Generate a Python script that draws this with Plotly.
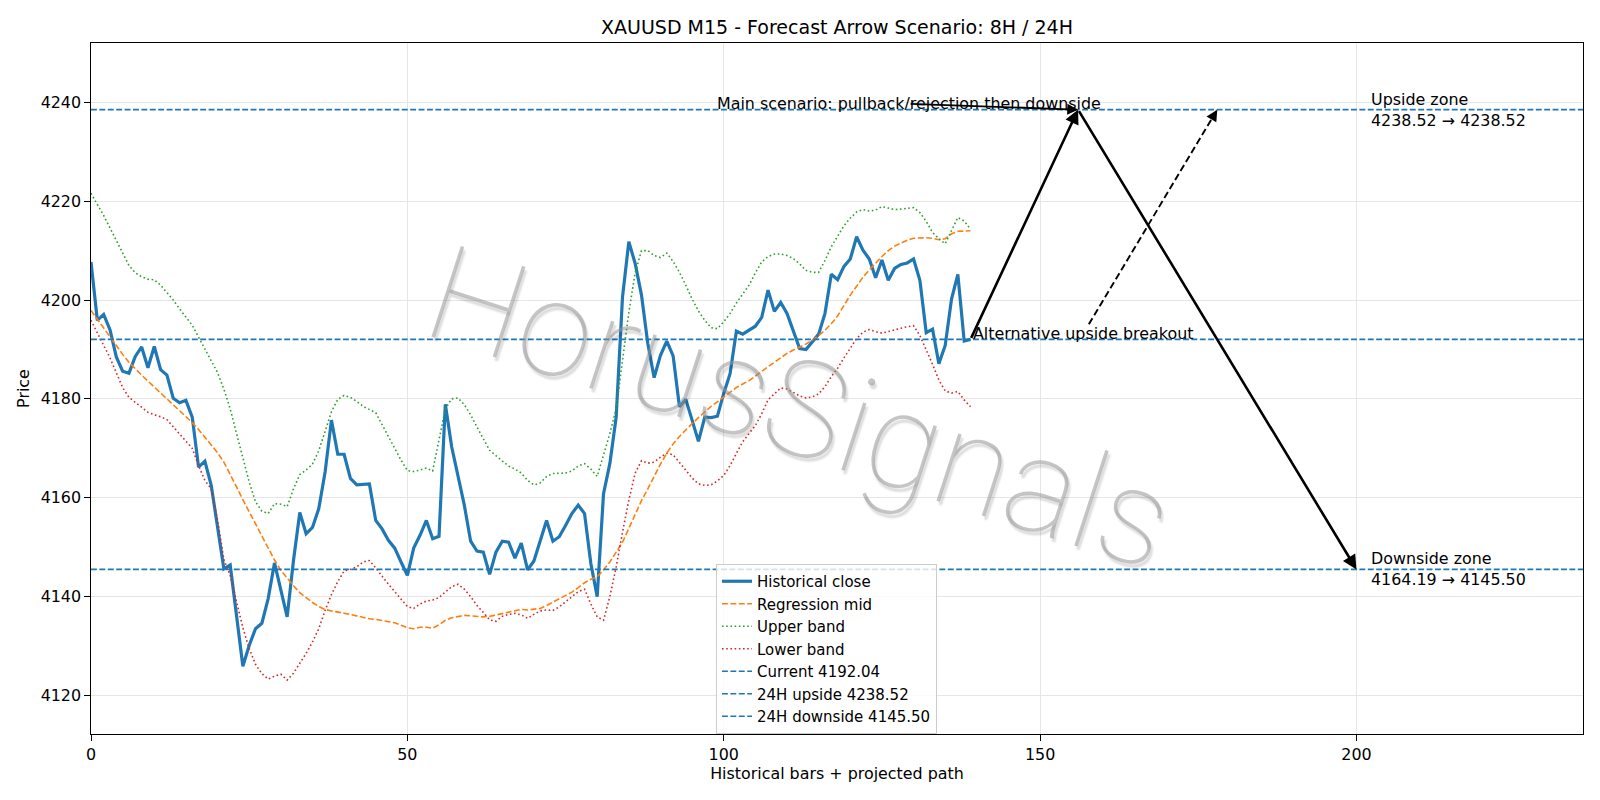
import plotly.graph_objects as go

# ---------------- data ----------------
bars = list(range(140))

close = [4207.7, 4195.9, 4197.1, 4194.0, 4188.5, 4185.6, 4185.2, 4188.6, 4190.5, 4186.3,
         4190.6, 4185.9, 4184.8, 4180.1, 4179.2, 4179.7, 4176.3, 4166.2, 4167.4, 4162.5,
         4154.1, 4145.6, 4146.4, 4135.9, 4125.9, 4130.1, 4133.5, 4134.6, 4139.6, 4146.8,
         4141.3, 4135.9, 4147.3, 4157.0, 4152.7, 4154.0, 4157.8, 4165.2, 4175.7, 4168.8,
         4168.8, 4163.9, 4162.6, 4162.7, 4162.8, 4155.4, 4153.7, 4151.4, 4149.8, 4147.0,
         4144.3, 4149.8, 4152.4, 4155.4, 4151.7, 4152.2, 4178.9, 4170.3, 4164.2, 4158.5,
         4151.2, 4149.2, 4149.0, 4144.5, 4149.0, 4151.2, 4151.0, 4147.8, 4150.8, 4145.4,
         4147.2, 4151.2, 4155.4, 4151.2, 4152.1, 4154.4, 4156.8, 4158.5, 4156.8, 4146.7,
         4140.0, 4160.8, 4166.9, 4176.3, 4200.6, 4211.8, 4207.4, 4201.0, 4191.2, 4184.3,
         4188.8, 4191.7, 4188.7, 4178.4, 4179.9, 4175.7, 4171.4, 4176.3, 4176.2, 4176.5,
         4181.1, 4185.1, 4193.7, 4193.1, 4193.9, 4194.7, 4196.5, 4202.0, 4197.7, 4199.5,
         4197.3, 4193.9, 4190.2, 4190.0, 4191.5, 4193.1, 4197.3, 4205.2, 4204.1, 4206.8,
         4208.3, 4212.8, 4210.1, 4208.3, 4204.5, 4208.1, 4204.0, 4206.4, 4207.2, 4207.5,
         4208.3, 4204.0, 4193.4, 4194.1, 4187.1, 4190.8, 4200.2, 4205.2, 4191.7, 4192.04]

mid = [4197.9, 4196.1, 4194.3, 4192.5, 4190.8, 4189.0, 4187.4, 4186.0, 4184.8, 4183.6,
       4182.4, 4181.3, 4180.0, 4178.8, 4177.6, 4176.4, 4175.2, 4173.8, 4172.3, 4170.8,
       4169.1, 4167.2, 4164.8, 4162.2, 4159.6, 4157.1, 4154.6, 4152.1, 4149.7, 4147.4,
       4145.3, 4143.7, 4142.2, 4140.8, 4139.7, 4138.8, 4138.0, 4137.4, 4137.1, 4136.9,
       4136.7, 4136.4, 4136.1, 4135.8, 4135.5, 4135.4, 4135.2, 4135.0, 4134.7, 4134.2,
       4133.7, 4133.5, 4133.8, 4133.8, 4133.6, 4134.3, 4135.2, 4135.7, 4136.0, 4136.2,
       4136.1, 4136.0, 4135.9, 4136.0, 4136.3, 4136.6, 4136.9, 4137.2, 4137.4, 4137.3,
       4137.4, 4137.6, 4138.2, 4138.9, 4139.6, 4140.2, 4140.9, 4141.8, 4142.8, 4143.5,
       4144.0, 4145.4, 4147.0, 4149.0, 4151.0, 4153.8, 4156.6, 4159.4, 4161.8, 4164.4,
       4166.8, 4169.0, 4170.9, 4172.4, 4173.8, 4175.0, 4176.2, 4177.4, 4178.5, 4179.4,
       4180.4, 4181.4, 4182.3, 4183.0, 4183.7, 4184.6, 4185.6, 4186.5, 4187.4, 4188.3,
       4189.2, 4189.9, 4190.5, 4191.1, 4191.9, 4192.8, 4193.9, 4195.2, 4196.8, 4198.9,
       4201.0, 4202.8, 4204.6, 4206.1, 4207.5, 4208.8, 4210.0, 4210.9, 4211.5, 4212.1,
       4212.5, 4212.6, 4212.6, 4212.5, 4212.2, 4212.4, 4213.4, 4213.9, 4214.0, 4214.0]

upper = [4221.6, 4219.4, 4217.1, 4214.6, 4212.0, 4209.6, 4207.0, 4205.5, 4204.7, 4204.2,
         4204.1, 4203.0, 4201.6, 4200.0, 4198.2, 4196.5, 4194.9, 4192.5, 4190.2, 4187.8,
         4185.3, 4182.0, 4178.0, 4173.0, 4168.0, 4163.2, 4159.2, 4157.3, 4156.8, 4158.8,
         4158.7, 4158.2, 4161.8, 4164.7, 4165.6, 4166.8, 4169.5, 4173.5, 4177.4, 4179.9,
         4180.7, 4180.3, 4179.5, 4178.5, 4177.9, 4177.2, 4174.8, 4172.3, 4169.9, 4167.6,
         4165.5, 4165.3, 4165.6, 4166.0, 4165.4, 4172.0, 4178.0, 4180.0, 4180.2, 4178.8,
         4176.8, 4174.3, 4171.9, 4169.6, 4168.5, 4167.4, 4166.4, 4165.8, 4165.0, 4163.5,
         4162.6, 4163.0, 4164.3, 4164.9, 4165.0, 4165.0, 4165.4, 4166.4, 4166.9, 4165.8,
         4164.3, 4168.5, 4173.0, 4178.0, 4187.5, 4197.5, 4205.5, 4210.0, 4210.0, 4209.0,
         4208.6, 4209.5, 4207.8, 4205.6, 4203.0, 4200.2, 4197.8, 4195.9, 4194.4, 4194.2,
         4195.6, 4197.3, 4199.4, 4201.2, 4203.0, 4205.5, 4207.7, 4208.8, 4209.3, 4209.3,
         4209.0, 4208.4, 4207.3, 4206.0, 4205.6, 4205.6, 4208.0, 4210.8, 4213.0, 4215.0,
         4216.6, 4217.8, 4218.3, 4218.0, 4218.2, 4218.9, 4218.6, 4218.3, 4218.4, 4218.6,
         4218.7, 4217.7, 4215.9, 4213.7, 4212.4, 4211.4, 4214.0, 4216.7, 4216.0, 4214.3]

lower = [4195.9, 4193.4, 4191.0, 4188.3, 4185.3, 4182.3, 4180.3, 4179.3, 4178.4, 4177.3,
         4176.8, 4176.4, 4175.8, 4174.4, 4172.8, 4171.5, 4170.0, 4166.5, 4163.5, 4161.8,
         4155.5, 4147.5, 4144.3, 4139.0, 4133.7, 4129.5, 4126.3, 4124.4, 4123.3, 4123.9,
         4124.3, 4123.1, 4124.5, 4126.5, 4128.5, 4130.8, 4133.5, 4137.2, 4140.4, 4143.0,
         4145.2, 4145.5, 4146.0, 4147.0, 4147.3, 4145.8, 4144.1, 4142.5, 4141.0, 4139.5,
         4138.0, 4137.6, 4138.5, 4139.1, 4139.3, 4139.8, 4141.0, 4142.0, 4142.5, 4141.5,
         4140.0, 4138.2, 4136.8, 4135.3, 4135.0, 4136.0, 4136.4, 4136.6, 4136.3, 4135.6,
         4136.4, 4137.1, 4137.3, 4137.2, 4137.9, 4138.9, 4140.0, 4141.0, 4141.5, 4138.5,
         4135.9, 4135.2, 4140.0, 4146.0, 4153.0, 4159.5, 4165.0, 4167.5, 4167.0, 4167.2,
         4168.2, 4169.0, 4168.7, 4167.2, 4165.7, 4164.0, 4162.8, 4162.5, 4162.6, 4163.4,
         4164.5, 4166.5, 4169.0, 4171.3, 4173.0, 4174.6, 4177.0, 4179.8, 4181.0, 4182.2,
         4182.0, 4181.3, 4180.6, 4180.2, 4180.4, 4181.0, 4182.5, 4184.5, 4186.2, 4188.3,
         4190.3, 4192.2, 4193.5, 4194.0, 4193.6, 4193.3, 4193.6, 4194.0, 4194.3, 4194.6,
         4194.8, 4192.8, 4190.0, 4187.0, 4183.8, 4181.6, 4181.2, 4181.5, 4179.8, 4178.4]

current_price = 4192.04
upside_24h = 4238.52
downside_24h = 4145.50
up_zone = (4238.52, 4238.52)
down_zone = (4164.19, 4145.50)

current_bar = 139
peak_bar = 156
target_bar = 200
alt_bar = 178
alt_from = (157.7, 4195.1)
main_text_pos = (129.3, 4239.7)
zone_text_bar = 202
watermark_pos = (112, 4178)

x_range = [0, 235.8]
y_range = [4112.2, 4252.0]
y_ticks = [4120, 4140, 4160, 4180, 4200, 4220, 4240]
x_ticks = [0, 50, 100, 150, 200]

# ---------------- styles ----------------
FONT = "DejaVu Sans"
TICK_SIZE = 15.9
TEXT_SIZE = 15.9
LEGEND_SIZE = 15.0
TITLE_SIZE = 19
LW = 1.59  # one matplotlib line-width unit in px
BLUE, ORANGE, GREEN, RED = "#1f77b4", "#ff7f0e", "#2ca02c", "#d62728"
DASHED = f"{3.7 * LW:.1f}px,{1.6 * LW:.1f}px"
DOTTED = f"{1.0 * LW:.1f}px,{1.65 * LW:.1f}px"

fig = go.Figure()

fig.add_trace(go.Scatter(x=bars, y=close, mode="lines", name="Historical close",
                         line=dict(color=BLUE, width=2 * LW)))
fig.add_trace(go.Scatter(x=bars, y=mid, mode="lines", name="Regression mid",
                         line=dict(color=ORANGE, width=LW, dash=DASHED)))
fig.add_trace(go.Scatter(x=bars, y=upper, mode="lines", name="Upper band",
                         line=dict(color=GREEN, width=LW, dash=DOTTED)))
fig.add_trace(go.Scatter(x=bars, y=lower, mode="lines", name="Lower band",
                         line=dict(color=RED, width=LW, dash=DOTTED)))

for lvl, label in [(current_price, f"Current {current_price:.2f}"),
                   (upside_24h, f"24H upside {upside_24h:.2f}"),
                   (downside_24h, f"24H downside {downside_24h:.2f}")]:
    fig.add_trace(go.Scatter(x=x_range, y=[lvl, lvl], mode="lines", name=label,
                             line=dict(color=BLUE, width=LW, dash=DASHED)))

# dashed alternative shaft
fig.add_trace(go.Scatter(x=[alt_from[0], alt_bar], y=[alt_from[1], upside_24h], mode="lines",
                         showlegend=False, hoverinfo="skip",
                         line=dict(color="black", width=1.9, dash="7px,3.5px")))

annotations = []

# watermark
annotations.append(dict(x=watermark_pos[0], y=watermark_pos[1], xref="x", yref="y",
                        text="HorusSignals", showarrow=False, textangle=18,
                        font=dict(family="Roboto", size=134, weight=100,
                                  color="rgba(150,150,150,0.55)",
                                  shadow="3px 3px 2px rgba(0,0,0,0.25)")))

def arrow(x0, y0, x1, y1, width, size=1.0):
    return dict(x=x1, y=y1, ax=x0, ay=y0, xref="x", yref="y", axref="x", ayref="y",
                text="", showarrow=True, arrowhead=2, arrowsize=size, arrowwidth=width,
                arrowcolor="black", standoff=0, startstandoff=0)

annotations.append(arrow(current_bar, current_price, peak_bar, upside_24h, 2.6, 1.1))
annotations.append(arrow(peak_bar, upside_24h, target_bar, downside_24h, 2.6, 1.1))
annotations.append(arrow(main_text_pos[0], main_text_pos[1], peak_bar, upside_24h, 1.8, 1.2))

# head of the dashed arrow: short segment along shaft direction
px_per_bar = 1492 / (x_range[1] - x_range[0])
px_per_unit = 691 / (y_range[1] - y_range[0])
dxp = (alt_bar - alt_from[0]) * px_per_bar
dyp = (upside_24h - alt_from[1]) * px_per_unit
L = (dxp ** 2 + dyp ** 2) ** 0.5
back = 9
annotations.append(arrow(alt_bar - back * dxp / L / px_per_bar,
                         upside_24h - back * dyp / L / px_per_unit,
                         alt_bar, upside_24h, 1.9, 1.2))

txt_font = dict(family=FONT, size=TEXT_SIZE, color="black")
annotations.append(dict(x=main_text_pos[0], y=main_text_pos[1], xref="x", yref="y",
                        text="Main scenario: pullback/rejection then downside",
                        showarrow=False, xanchor="center", yanchor="middle", font=txt_font))
annotations.append(dict(x=current_bar, y=current_price + 1.2, xref="x", yref="y",
                        text="Alternative upside breakout", showarrow=False,
                        xanchor="left", yanchor="middle", font=txt_font))
annotations.append(dict(x=zone_text_bar, y=upside_24h, xref="x", yref="y",
                        text=f"Upside zone<br>{up_zone[0]:.2f} → {up_zone[1]:.2f}",
                        showarrow=False, xanchor="left", yanchor="middle", align="left",
                        font=txt_font))
annotations.append(dict(x=zone_text_bar, y=downside_24h, xref="x", yref="y",
                        text=f"Downside zone<br>{down_zone[0]:.2f} → {down_zone[1]:.2f}",
                        showarrow=False, xanchor="left", yanchor="middle", align="left",
                        font=txt_font))

axis_common = dict(showline=True, linecolor="black", linewidth=1.27, mirror=True,
                   ticks="outside", ticklen=5.6, tickwidth=1.27, tickcolor="black",
                   showgrid=True, gridcolor="#e6e6e6", gridwidth=1.1, zeroline=False,
                   tickfont=dict(family=FONT, size=TICK_SIZE, color="black"))

fig.update_layout(
    width=1600, height=800,
    margin=dict(l=91, r=17, t=43, b=66),
    paper_bgcolor="white", plot_bgcolor="white",
    font=dict(family=FONT, size=TICK_SIZE, color="black"),
    title=dict(text="XAUUSD M15 - Forecast Arrow Scenario: 8H / 24H", x=0.5, xref="paper",
               xanchor="center", y=1 - 27 / 800, yanchor="middle",
               font=dict(family=FONT, size=TITLE_SIZE, color="black")),
    xaxis=dict(range=x_range, tickvals=x_ticks, title=dict(text="Historical bars + projected path",
               standoff=4, font=dict(family=FONT, size=TEXT_SIZE)), **axis_common),
    yaxis=dict(range=y_range, tickvals=y_ticks, title=dict(text="Price", standoff=7,
               font=dict(family=FONT, size=TEXT_SIZE)), **axis_common),
    legend=dict(x=(716 - 91) / 1492, y=(734 - 564) / 691, xanchor="left", yanchor="top",
                bgcolor="rgba(255,255,255,0.8)", bordercolor="#cccccc", borderwidth=1,
                tracegroupgap=0, font=dict(family=FONT, size=LEGEND_SIZE, color="black")),
    annotations=annotations,
    showlegend=True,
)

fig.write_html("out.html")
